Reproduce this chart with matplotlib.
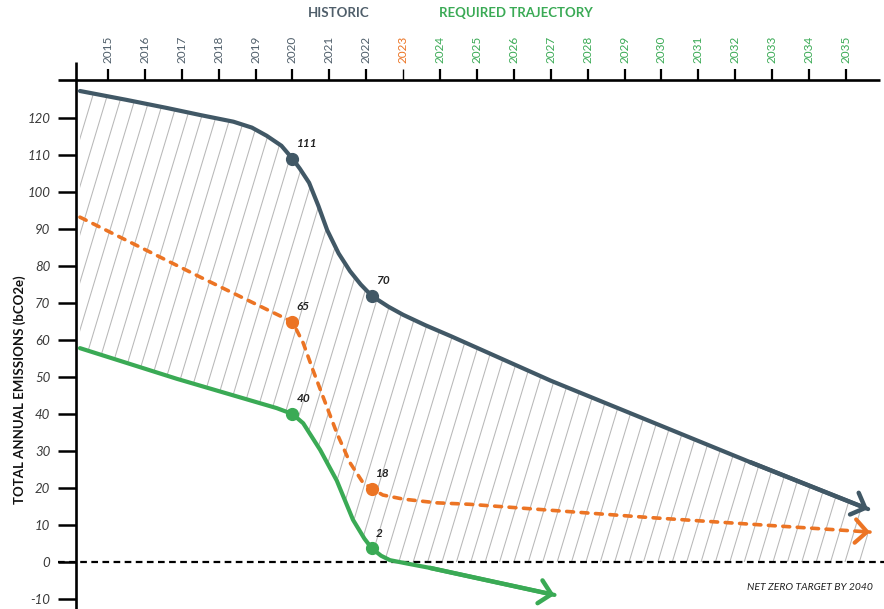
import numpy as np
import matplotlib
matplotlib.use("Agg")
import matplotlib.pyplot as plt
from matplotlib.collections import LineCollection
from matplotlib.patches import Polygon

# ---------------- data ----------------
years_axis = list(range(2015, 2036))
historic_years = list(range(2015, 2023))
current_year = 2023

dark_x = [2014.24, 2015.5, 2016.6, 2017.5, 2018.4, 2018.9, 2019.3, 2019.7, 2020.0,
          2020.2, 2020.45, 2020.7, 2020.94, 2021.25, 2021.56, 2021.85, 2022.15,
          2022.6, 2023.0, 2023.6, 2024.3, 2027.0, 2029.7, 2032.4, 2035.6]
dark_y = [127.3, 124.9, 122.7, 120.8, 119.0, 117.4, 115.2, 112.5, 109.0,
          106.3, 102.5, 96.3, 89.7, 83.4, 78.6, 75.0, 71.9,
          69.0, 66.8, 64.0, 61.0, 49.0, 38.0, 27.0, 14.3]

orange_x = [2014.24, 2017.5, 2019.5, 2020.0, 2020.29, 2020.55, 2020.83, 2021.2, 2021.56,
            2021.9, 2022.15, 2022.45, 2023.0, 2023.9, 2024.8, 2029.7, 2035.65]
orange_y = [93.2, 77.0, 67.3, 64.9, 59.2, 52.0, 44.6, 34.9, 26.8,
            21.6, 19.8, 18.1, 17.0, 16.0, 15.6, 12.0, 8.1]

green_x = [2014.24, 2016.87, 2019.57, 2020.0, 2020.29, 2020.75, 2021.2, 2021.64,
           2021.95, 2022.15, 2022.4, 2022.64, 2023.2, 2023.73, 2027.1]
green_y = [57.8, 49.5, 41.6, 40.0, 37.5, 30.3, 22.0, 11.4,
           6.3, 3.7, 1.7, 0.5, -0.6, -1.6, -8.9]

dark_marks = [8, 16]
dark_labels = ["111", "70"]
orange_marks = [3, 10]
orange_labels = ["65", "18"]
green_marks = [3, 9]
green_labels = ["40", "2"]

y_ticks = list(range(-10, 130, 10))

C_DARK = "#415866"
C_ORANGE = "#ec7424"
C_GREEN = "#3aaa55"
C_HIST = "#4f5e6a"

plt.rcParams['font.family'] = ['Lato', 'DejaVu Sans']

fig = plt.figure(figsize=(8.84, 6.09), dpi=100)
W, H = 884, 609
ax_left_px, ax_top_px = 76, 80
ax = fig.add_axes([ax_left_px / W, 0, (W - ax_left_px) / W, (H - ax_top_px) / H])
ax.set_xlim(2014.133, 2036.03)
ax.set_ylim(-12.7, 130.27)
for s in ax.spines.values():
    s.set_visible(False)

# ---------------- hatched region ----------------
grid = np.linspace(dark_x[0], dark_x[-1], 800)
top = np.interp(grid, dark_x, dark_y)
bot = np.maximum(np.interp(grid, green_x, green_y), 0)
poly_pts = np.vstack([np.column_stack([grid, top]), np.column_stack([grid[::-1], bot[::-1]])])
poly = Polygon(poly_pts, closed=True, facecolor="none", edgecolor="none")
ax.add_patch(poly)
slope = 33.2  # units per year (steep "/" hatch)
spacing = 0.39
segs = []
for x0 in np.arange(2008.0, 2037.0, spacing):
    segs.append([(x0, -15), (x0 + 150 / slope, 135)])
lc = LineCollection(segs, colors="#b8b8b8", linewidths=0.75, zorder=1)
ax.add_collection(lc)
lc.set_clip_path(poly)

# ---------------- zero line ----------------
ax.plot([2013.64, 2036.1], [0, 0], color="black", lw=1.6, ls=(0, (3, 2)),
        clip_on=False, zorder=2)

# ---------------- series ----------------
HEAD = "->,head_length=0.42,head_width=0.42"
ax.plot(dark_x, dark_y, color=C_DARK, lw=3.0, solid_capstyle="round",
        solid_joinstyle="round", zorder=4)
ax.annotate("", xy=(dark_x[-1], dark_y[-1]), xytext=(dark_x[-2], dark_y[-2]),
            arrowprops=dict(arrowstyle=HEAD, color=C_DARK, lw=3.2, mutation_scale=20,
                            shrinkA=0, shrinkB=0, capstyle="round", joinstyle="round"),
            zorder=4)

ax.plot(orange_x, orange_y, color=C_ORANGE, lw=2.6, ls=(0, (1.9, 2.1)),
        dash_capstyle="round", zorder=4)
ox = orange_x[-1] - 0.03 * (orange_x[-1] - orange_x[-2])
oy = orange_y[-1] - 0.03 * (orange_y[-1] - orange_y[-2])
ax.annotate("", xy=(orange_x[-1], orange_y[-1]), xytext=(ox, oy),
            arrowprops=dict(arrowstyle=HEAD, color=C_ORANGE, lw=3.0, mutation_scale=20,
                            shrinkA=0, shrinkB=0, capstyle="round", joinstyle="round"),
            zorder=4)

ax.plot(green_x, green_y, color=C_GREEN, lw=3.0, solid_capstyle="round",
        solid_joinstyle="round", zorder=4)
ax.annotate("", xy=(green_x[-1], green_y[-1]), xytext=(green_x[-2], green_y[-2]),
            arrowprops=dict(arrowstyle=HEAD, color=C_GREEN, lw=3.2, mutation_scale=20,
                            shrinkA=0, shrinkB=0, capstyle="round", joinstyle="round"),
            zorder=4)

for xs, ys, idxs, labs, c in [(dark_x, dark_y, dark_marks, dark_labels, C_DARK),
                              (orange_x, orange_y, orange_marks, orange_labels, C_ORANGE),
                              (green_x, green_y, green_marks, green_labels, C_GREEN)]:
    mx = [xs[i] for i in idxs]
    my = [ys[i] for i in idxs]
    ax.plot(mx, my, "o", color=c, ms=8.5, zorder=5)
    for x, y, t in zip(mx, my, labs):
        ax.annotate(t, (x, y), xytext=(3, 7), textcoords="offset points",
                    ha="left", va="bottom", fontsize=8.5, fontweight="bold",
                    fontstyle="italic", color="#222222", zorder=6)

# ---------------- axes frame ----------------
ax.plot([0, 0], [-0.02, 1 + 18 / 529], transform=ax.transAxes, color="black",
        lw=1.9, clip_on=False, zorder=3, solid_capstyle="butt")
ax.plot([-18 / 808, (880 - 76) / 808], [1, 1], transform=ax.transAxes, color="black",
        lw=1.9, clip_on=False, zorder=3, solid_capstyle="butt")

# y ticks
ax.set_yticks(y_ticks)
ax.set_yticklabels([str(v) for v in y_ticks])
ax.tick_params(axis="y", direction="out", length=13, width=1.8, pad=5.5,
               labelsize=9.5, labelcolor="#3a3a3a", color="black")
for lab in ax.get_yticklabels():
    lab.set_fontstyle("italic")

# x ticks on top
ax.xaxis.tick_top()
ax.set_xticks(years_axis)
ax.set_xticklabels([str(y) for y in years_axis], rotation=90)
ax.tick_params(axis="x", direction="out", length=8, width=1.6, pad=4,
               labelsize=8.5, color="black")
for tk, y in zip(ax.xaxis.get_major_ticks(), years_axis):
    if y in historic_years:
        col = C_HIST
    elif y == current_year:
        col = C_ORANGE
        tk.tick2line.set_color(C_ORANGE)
        tk.tick2line.set_markeredgewidth(1.0)
    else:
        col = C_GREEN
    tk.label2.set_color(col)

# titles
fig.text(339 / W, 1 - 13 / H, "HISTORIC", ha="center", va="center",
         fontsize=9.5, fontweight="bold", color=C_HIST)
fig.text(516 / W, 1 - 13 / H, "REQUIRED TRAJECTORY", ha="center", va="center",
         fontsize=9.5, fontweight="bold", color=C_GREEN)
fig.text(20 / W, 1 - 390 / H, "TOTAL ANNUAL EMISSIONS (bCO2e)", ha="center",
         va="center", rotation=90, fontsize=9.5, fontweight="bold", color="#111111")
fig.text(873 / W, 1 - 587 / H, "NET ZERO TARGET BY 2040", ha="right", va="center",
         fontsize=7.5, fontstyle="italic", color="#222222")

fig.savefig("out.png", dpi=100)
